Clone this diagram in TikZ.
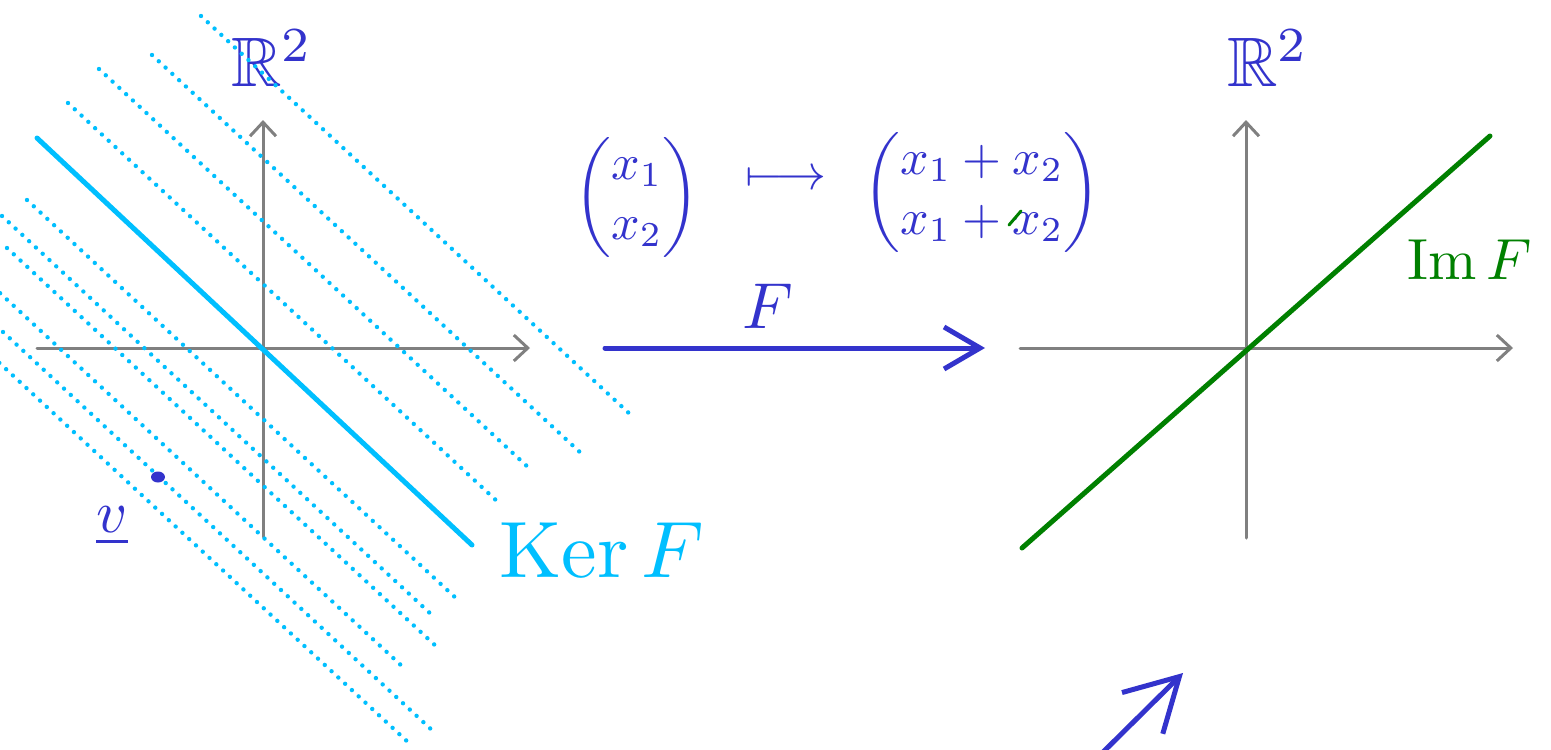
\documentclass[tikz,border=0pt]{standalone}
\usepackage{amsmath,amssymb}
\usetikzlibrary{arrows.meta}
\definecolor{penblue}{RGB}{51,51,204}
\definecolor{kercyan}{RGB}{0,191,255}
\definecolor{imgreen}{RGB}{0,128,0}
\definecolor{axisgray}{RGB}{128,128,128}
\begin{document}
\begin{tikzpicture}[x=1pt,y=-1pt,
  axis/.style={draw=axisgray,line width=3pt,line cap=round,-{Straight Barb[length=14pt,width=26pt]}},
  kerline/.style={draw=kercyan,line width=5pt,line cap=round},
  coset/.style={draw=kercyan,line width=4.4pt,line cap=round,dash pattern=on 0pt off 9.25pt},
  imline/.style={draw=imgreen,line width=5pt,line cap=round},
  bigarrow/.style={draw=penblue,line width=5pt,line cap=round,-{Straight Barb[length=36pt,width=42pt]}},
  hintarrow/.style={draw=penblue,line width=5pt,line cap=round,-{Straight Barb[length=52pt,width=58pt]}},
  lbl/.style={inner sep=0pt,text=penblue},
]
\useasboundingbox (0,0) rectangle (1551,750);
\clip (0,0) rectangle (1551,750);

% left axes
\coordinate (lxs) at (37,348);
\coordinate (lxe) at (530,348);
\coordinate (lys) at (263,537);
\coordinate (lye) at (263,120);
\draw[axis] (lxs) -- (lxe);
\draw[axis] (lys) -- (lye);

% right axes
\coordinate (rxs) at (1020,348);
\coordinate (rxe) at (1513,348);
\coordinate (rys) at (1246,538);
\coordinate (rye) at (1246,120);
\draw[axis] (rxs) -- (rxe);
\draw[axis] (rys) -- (rye);

% labels
\node[lbl,scale=7] (r2l) at (272,58) {$\mathbb{R}^2$};
\node[lbl,scale=7] (r2r) at (1268,58) {$\mathbb{R}^2$};
\node[lbl,scale=5] (m1) at (637,197) {$\begin{pmatrix}x_1\\x_2\end{pmatrix}$};
\node[lbl,scale=5] (mt) at (786,180) {$\longmapsto$};
\node[lbl,scale=5] (m2) at (982,192) {$\begin{pmatrix}x_1+x_2\\x_1+x_2\end{pmatrix}$};
\draw[imgreen,line width=3pt,line cap=round] (1009,225) -- (1021,211);
\node[lbl,scale=6.5] (fl) at (768,306) {$F$};
\node[inner sep=0pt,text=kercyan,scale=8] (kerl) at (602,550) {$\mathrm{Ker}\,F$};
\node[inner sep=0pt,text=imgreen,scale=5.8] (iml) at (1470,260) {$\mathrm{Im}\,F$};
\node[lbl,scale=6] (vl) at (112,526) {$\underline{v}$};

% map arrow
\coordinate (fs) at (605,348);
\coordinate (fe) at (985,348);
\draw[bigarrow] (fs) -- (fe);

% bottom arrow
\coordinate (bs) at (1090,765);
\coordinate (be) at (1183,673);
\draw[hintarrow] (bs) -- (be);

% image line
\coordinate (ims) at (1022,548);
\coordinate (ime) at (1490,136);
\draw[imline] (ims) -- (ime);

% kernel line
\coordinate (ks) at (37,138);
\coordinate (ke) at (472,545);
\draw[kerline] (ks) -- (ke);

% parallel cosets
\foreach \sx/\sy in {201/16,152/55,99/69,68/103,27/200,2/216,7/248,-27/268,3/332,-21/344}
  \draw[coset] (\sx,\sy) -- ++(431,400);

% point v
\fill[penblue] (158,477) ellipse [x radius=7pt,y radius=5.5pt];
\end{tikzpicture}
\end{document}
